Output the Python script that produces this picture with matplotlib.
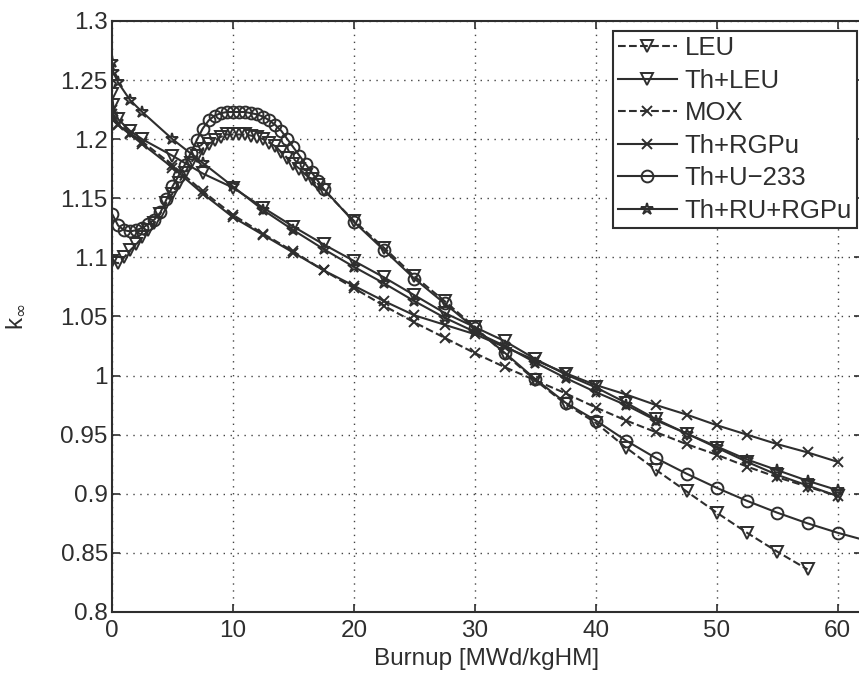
import numpy as np
import matplotlib.pyplot as plt

plt.rcParams['font.family'] = ['Liberation Sans', 'DejaVu Sans']

# burnup steps (MWd/kgHM)
bu_dense = [0, 0.5, 1, 1.5, 2, 2.5, 3, 3.5, 4, 4.5, 5, 5.5, 6, 6.5, 7, 7.5, 8, 8.5,
            9, 9.5, 10, 10.5, 11, 11.5, 12, 12.5, 13, 13.5, 14, 14.5, 15, 15.5, 16,
            16.5, 17, 17.5, 20, 22.5, 25, 27.5, 30, 32.5, 35, 37.5, 40, 42.5, 45,
            47.5, 50, 52.5, 55, 57.5, 60, 62.5]
bu_coarse = [0, 0.1, 0.5, 1.5, 2.5, 5, 7.5, 10, 12.5, 15, 17.5, 20, 22.5, 25, 27.5,
             30, 32.5, 35, 37.5, 40, 42.5, 45, 47.5, 50, 52.5, 55, 57.5, 60]

leu = [1.097, 1.095, 1.100, 1.106, 1.111, 1.117, 1.123, 1.129, 1.137, 1.146, 1.154,
       1.163, 1.171, 1.180, 1.186, 1.192, 1.196, 1.199, 1.202, 1.204, 1.204, 1.204,
       1.204, 1.203, 1.202, 1.200, 1.197, 1.194, 1.189, 1.184, 1.179, 1.175, 1.170,
       1.166, 1.161, 1.157, 1.131, 1.108, 1.084, 1.063, 1.041, 1.018, 0.996, 0.976,
       0.960, 0.939, 0.920, 0.902, 0.884, 0.867, 0.851, 0.836]
th_u233 = [1.137, 1.127, 1.123, 1.122, 1.123, 1.125, 1.128, 1.132, 1.138, 1.149,
           1.160, 1.169, 1.178, 1.188, 1.199, 1.209, 1.216, 1.220, 1.222, 1.223,
           1.223, 1.223, 1.223, 1.222, 1.221, 1.219, 1.216, 1.212, 1.207, 1.200,
           1.193, 1.186, 1.179, 1.172, 1.165, 1.158, 1.130, 1.106, 1.082, 1.061,
           1.040, 1.019, 0.997, 0.977, 0.962, 0.945, 0.930, 0.917, 0.905, 0.894,
           0.884, 0.875, 0.867, 0.860]
th_leu = [1.238, 1.229, 1.217, 1.207, 1.200, 1.186, 1.171, 1.159, 1.142, 1.126,
          1.111, 1.097, 1.083, 1.068, 1.053, 1.041, 1.029, 1.014, 1.001, 0.990,
          0.977, 0.963, 0.951, 0.939, 0.927, 0.916, 0.907, 0.898]
mox = [1.225, 1.219, 1.213, 1.205, 1.198, 1.178, 1.156, 1.136, 1.120, 1.105,
       1.089, 1.074, 1.059, 1.045, 1.032, 1.019, 1.007, 0.996, 0.985, 0.973,
       0.962, 0.952, 0.942, 0.933, 0.923, 0.914, 0.906, 0.898]
th_rgpu = [1.221, 1.216, 1.212, 1.204, 1.196, 1.176, 1.154, 1.134, 1.119, 1.104,
           1.089, 1.076, 1.063, 1.051, 1.043, 1.035, 1.024, 1.013, 1.002, 0.992,
           0.984, 0.975, 0.967, 0.958, 0.950, 0.942, 0.935, 0.927]
th_ru_rgpu = [1.265, 1.257, 1.248, 1.233, 1.223, 1.200, 1.180, 1.160, 1.140, 1.123,
              1.107, 1.092, 1.078, 1.063, 1.049, 1.037, 1.025, 1.011, 0.998, 0.986,
              0.975, 0.962, 0.951, 0.940, 0.929, 0.920, 0.911, 0.903]

col = '#2e2e2e'
fig = plt.figure(figsize=(8.59, 6.75), dpi=100)
ax = fig.add_axes([112 / 859, 1 - 612 / 675, 750 / 859, 591 / 675])

kw = dict(color=col, lw=1.5, mfc='none', mew=1.4)
ax.plot(bu_dense[:len(leu)], leu, '--', marker='v', ms=8.5, label='LEU', **kw)
ax.plot(bu_coarse, th_leu, '-', marker='v', ms=8.5, label='Th+LEU', **kw)
ax.plot(bu_coarse, mox, '--', marker='x', ms=7, label='MOX', **kw)
ax.plot(bu_coarse, th_rgpu, '-', marker='x', ms=7, label='Th+RGPu', **kw)
ax.plot(bu_dense, th_u233, '-', marker='o', ms=8.5, label='Th+U\u2212233', **kw)
ax.plot(bu_coarse, th_ru_rgpu, '-', marker='*', ms=9, label='Th+RU+RGPu', **kw)

ax.set_xlim(0, 62)
ax.set_ylim(0.8, 1.3)
ax.set_xticks([0, 10, 20, 30, 40, 50, 60])
yt = np.round(np.arange(0.8, 1.301, 0.05), 2)
ax.set_yticks(yt)
ax.set_yticklabels(['%g' % v for v in yt])
ax.grid(True, linestyle=(0, (1, 4)), color='#444444', lw=1.0)
ax.tick_params(direction='in', length=6, width=1.2, labelsize=17.5, colors=col,
               top=True, right=True, pad=3)
ax.tick_params(axis='x', pad=6)
for s in ax.spines.values():
    s.set_linewidth(1.5)
    s.set_color(col)

ax.set_xlabel('Burnup [MWd/kgHM]', fontsize=17.5, color=col, labelpad=4)
ax.set_ylabel(r'k$_\infty$', fontsize=17.5, color=col, labelpad=24)

leg = ax.legend(loc='upper right', bbox_to_anchor=(857 / 859, 1 - 31 / 675),
                bbox_transform=fig.transFigure, borderaxespad=0, fancybox=False,
                fontsize=18.5, handlelength=2.3, labelspacing=0.33,
                handletextpad=0.3, borderpad=0.2, framealpha=1)
leg.get_frame().set_edgecolor(col)
leg.get_frame().set_linewidth(1.5)
for t in leg.get_texts():
    t.set_color(col)

fig.savefig('out.png', dpi=100)
